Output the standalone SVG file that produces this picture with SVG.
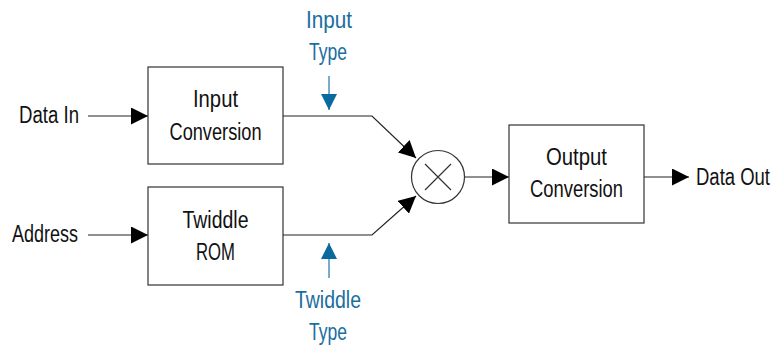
<svg xmlns="http://www.w3.org/2000/svg" width="773" height="347" viewBox="0 0 773 347">
<defs>
<style>
text{font-family:"Liberation Sans",Arial,sans-serif;font-size:23px;fill:#111}
.c{text-anchor:middle}
.b{fill:#1a6e9f}
.box{fill:#fff;stroke:#333;stroke-width:1.2}
.ln{fill:none;stroke:#222;stroke-width:1.2}
.bl{fill:none;stroke:#4a90bd;stroke-width:1.5}
</style>
<marker id="ah" viewBox="0 0 10 10" refX="10" refY="5" markerWidth="17" markerHeight="17" markerUnits="userSpaceOnUse" orient="auto"><path d="M0,0L10,5L0,10z" fill="#000"/></marker>
<marker id="bh" viewBox="0 0 10 10" refX="10" refY="5" markerWidth="16" markerHeight="16" markerUnits="userSpaceOnUse" orient="auto"><path d="M0,0L10,5L0,10z" fill="#0a6a9e"/></marker>
</defs>
<g id="connectors">
<path class="ln" d="M88,116H148" marker-end="url(#ah)"/>
<path class="ln" d="M88,235H148" marker-end="url(#ah)"/>
<path class="ln" d="M283,116H372L416,158" marker-end="url(#ah)"/>
<path class="ln" d="M283,235H372L416,196" marker-end="url(#ah)"/>
<path class="ln" d="M465,177H509" marker-end="url(#ah)"/>
<path class="ln" d="M644,177H689" marker-end="url(#ah)"/>
<path class="bl" d="M329,76V110" marker-end="url(#bh)"/>
<path class="bl" d="M329,278V243" marker-end="url(#bh)"/>
</g>
<g id="data-in"><text x="19" y="123" textLength="60" lengthAdjust="spacingAndGlyphs">Data In</text></g>
<g id="address"><text x="12" y="242" textLength="66" lengthAdjust="spacingAndGlyphs">Address</text></g>
<g id="input-conversion"><rect class="box" x="148" y="67" width="135" height="97"/><text class="c" x="215.5" y="107" textLength="45" lengthAdjust="spacingAndGlyphs">Input</text><text class="c" x="215.5" y="140" textLength="92" lengthAdjust="spacingAndGlyphs">Conversion</text></g>
<g id="twiddle-rom"><rect class="box" x="148" y="187" width="135" height="98"/><text class="c" x="215.5" y="228" textLength="66" lengthAdjust="spacingAndGlyphs">Twiddle</text><text class="c" x="215.5" y="260" textLength="39" lengthAdjust="spacingAndGlyphs">ROM</text></g>
<g id="input-type"><text class="c b" x="329" y="28" textLength="46" lengthAdjust="spacingAndGlyphs">Input</text><text class="c b" x="328" y="60" textLength="38" lengthAdjust="spacingAndGlyphs">Type</text></g>
<g id="twiddle-type"><text class="c b" x="328" y="308" textLength="66" lengthAdjust="spacingAndGlyphs">Twiddle</text><text class="c b" x="328" y="340" textLength="38" lengthAdjust="spacingAndGlyphs">Type</text></g>
<g id="multiplier"><circle cx="438" cy="177" r="26.5" fill="#fff" stroke="#333" stroke-width="1.2"/><path d="M425,164L451,190M451,164L425,190" stroke="#333" stroke-width="1.2"/></g>
<g id="output-conversion"><rect class="box" x="509" y="125" width="135" height="98"/><text class="c" x="576.5" y="165" textLength="61" lengthAdjust="spacingAndGlyphs">Output</text><text class="c" x="576.5" y="197" textLength="93" lengthAdjust="spacingAndGlyphs">Conversion</text></g>
<g id="data-out"><text x="770" y="185" text-anchor="end" textLength="74" lengthAdjust="spacingAndGlyphs">Data Out</text></g>
</svg>
